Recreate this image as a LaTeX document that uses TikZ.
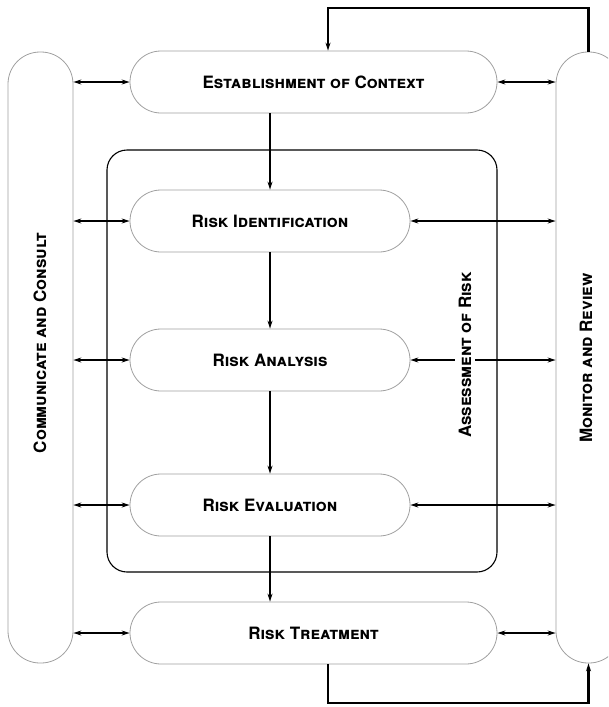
\documentclass[tikz,border=0pt]{standalone}
\usepackage{fontspec}
\setmainfont{TeX Gyre Heros}
\usetikzlibrary{arrows.meta}

\begin{document}
\begin{tikzpicture}[x=1pt,y=-1pt,>={Stealth[length=8pt,width=5pt]},
  step box/.style={draw=gray!75,line width=0.8pt,rounded corners=31pt,
    minimum width=280pt,minimum height=62pt,inner sep=0pt,
    font=\fontsize{17}{19}\selectfont\bfseries\scshape},
  wide box/.style={step box,minimum width=367pt},
  side box/.style={draw=gray!75,line width=0.8pt,rounded corners=32pt,
    minimum width=65pt,minimum height=611pt,inner sep=0pt},
  side text/.style={rotate=90,font=\fontsize{17}{19}\selectfont\bfseries\scshape},
  flow/.style={->,line width=1.6pt},
  link/.style={<->,line width=1.3pt},
  loop/.style={->,line width=2.2pt}]
  \clip (0,0) rectangle (608,707);

  % side bars
  \node[side box] (comm) at (40.5,357.5) {};
  \node[side box] (monitor) at (588.5,357.5) {};
  \node[side text] at (40,343) {Communicate and Consult};
  \node[side text] at (586,358) {Monitor and Review};

  % assessment frame
  \draw[line width=1.1pt,rounded corners=20pt] (107,150) rectangle (497,572);

  % process steps
  \node[wide box] (estab) at (313.5,82) {Establishment of Context};
  \node[step box] (ident) at (270,221) {Risk Identification};
  \node[step box] (analysis) at (270,360) {Risk Analysis};
  \node[step box] (evaluation) at (270,505) {Risk Evaluation};
  \node[wide box] (treatment) at (313.5,633) {Risk Treatment};

  % main flow
  \draw[flow] (ident.north |- estab.south) -- (ident.north);
  \draw[flow] (ident) -- (analysis);
  \draw[flow] (analysis) -- (evaluation);
  \draw[flow] (evaluation.south) -- (evaluation.south |- treatment.north);

  % links to the side bars
  \foreach \s in {estab,ident,analysis,evaluation,treatment}
    \draw[link] (comm.east |- \s.west) -- (\s.west);
  \foreach \s in {estab,ident,analysis,evaluation,treatment}
    \draw[link] (\s.east) -- (monitor.west |- \s.east);

  \node[side text,fill=white,inner sep=4pt] (assess) at (465,355) {Assessment of Risk};

  % feedback loops
  \coordinate (topturn) at (328,8);
  \coordinate (botturn) at (328,703);
  \draw[loop] (monitor.north) |- (topturn) -- (topturn |- estab.north);
  \draw[loop] (botturn |- treatment.south) -- (botturn) -| (monitor.south);
\end{tikzpicture}
\end{document}
